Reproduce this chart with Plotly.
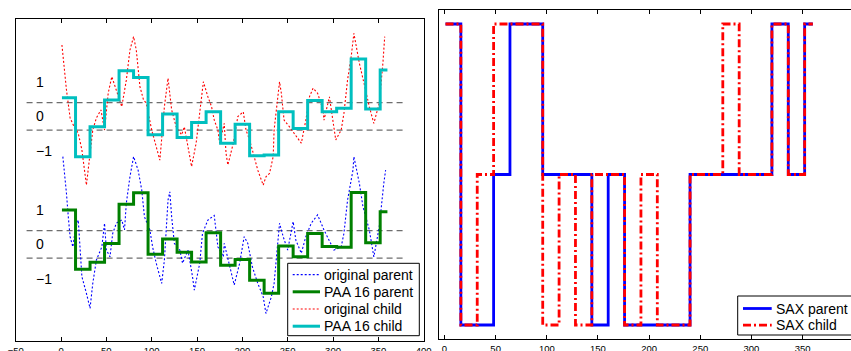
import plotly.graph_objects as go

# ---- data -------------------------------------------------------------
N_SAMPLES = 360
SEG_LEN = 16
CHILD_OFFSET = 4.0            # child series is lifted so both fit one axis
BREAKPOINTS = [-0.43, 0.43]   # SAX breakpoints for a 3-letter alphabet
BREAK_X = [-38, 377]

# original (z-normalised) series, sampled at the turning points
PARENT_X = [2, 4, 6, 8, 10, 13, 16, 19, 21, 23, 28, 32, 35, 39, 45, 48, 50, 54, 57, 61,
            67, 70, 72, 76, 80, 85, 89, 92, 98, 101, 105, 111, 114, 118, 120, 122, 125,
            131, 134, 140, 145, 147, 153, 156, 162, 169, 173, 179, 180, 186, 191, 197,
            202, 206, 211, 217, 223, 226, 232, 235, 238, 241, 245, 250, 256, 259, 265,
            270, 276, 283, 290, 296, 301, 309, 312, 316, 322, 323, 329, 333, 340, 345,
            351, 356, 358]
PARENT_V = [2.74, 2.22, 1.59, 0.86, 0.24, -0.08, 0.5, 0.76, -0.3, -1.01, -1.53, -2.0,
            -1.22, -0.49, -0.08, 0.66, -0.18, -0.39, 0.34, 0.66, 0.76, 0.45, 1.28, 2.11,
            2.74, 2.32, 1.7, 0.86, 0.45, -0.08, -0.59, -1.22, -0.49, 1.38, 1.64, 0.86,
            0.03, -0.18, -0.59, -0.18, -1.01, -1.43, -0.59, 0.34, 0.76, 0.9, -0.08, -0.39,
            0.03, -0.7, -1.27, -0.59, 0.24, 0.03, -0.7, -1.22, -1.64, -2.16, -1.64, -1.22,
            -0.18, 0.66, 0.24, -0.18, 0.71, 0.13, -0.28, 0.24, 0.66, 0.92, 0.45, 0.13,
            -0.18, -0.08, 0.34, 1.38, 2.32, 2.74, 1.91, 1.18, 0.45, -0.39, 0.55, 1.91, 2.32]

CHILD_X = [1, 6, 10, 14, 19, 23, 28, 30, 35, 39, 44, 48, 52, 56, 63, 67, 72, 76, 80, 83,
           87, 91, 94, 100, 105, 109, 114, 118, 122, 127, 133, 136, 142, 144, 149, 153,
           157, 162, 166, 169, 173, 175, 180, 182, 184, 190, 195, 201, 204, 208, 213, 217,
           223, 226, 230, 234, 235, 239, 241, 243, 246, 252, 257, 265, 270, 274, 278, 283,
           289, 290, 296, 300, 303, 309, 312, 316, 320, 323, 329, 335, 340, 345, 351, 355,
           357]
CHILD_V = [2.23, 0.82, -0.05, -0.3, -0.53, -1.05, -2.15, -1.68, -0.43, -0.05, 0.2, -0.43,
           0.72, 1.24, 0.61, 0.3, 1.13, 2.07, 2.49, 2.07, 0.93, 0.51, 0.41, -0.43, -0.95,
           -1.37, 0.3, 1.19, 0.2, -0.33, -0.58, -0.33, -1.26, -1.57, -0.84, 0.09, 1.08,
           0.61, 0.3, -0.12, -0.43, -0.84, -0.22, -1.16, -1.52, -0.84, -0.01, 0.14, -0.43,
           -0.74, -1.26, -1.68, -2.15, -1.89, -1.78, -1.26, -0.43, 0.61, 1.08, 0.72, -0.12,
           -0.33, -0.53, -0.84, -0.12, 0.61, 0.88, 0.72, 0.2, -0.12, 0.61, -0.12, -0.74,
           -0.43, 0.09, 1.13, 1.86, 2.59, 1.66, 0.93, 0.3, -0.22, 0.41, 1.66, 2.49]

# PAA with 16-sample frames (23 frames, the last one partial)
PAA_PARENT = [1.07, -0.78, -0.56, 0.03, 1.25, 1.61, -0.31, 0.17, -0.25, -0.55, 0.36, -0.65,
              -0.47, -1.12, -1.53, -0.05, -0.39, 0.34, -0.07, -0.09, 1.62, 0.05, 1.02]
PAA_CHILD = [0.58, -1.26, -0.33, 0.51, 1.42, 1.21, -0.58, 0.07, -0.66, -0.19, 0.14, -0.84,
             -0.25, -1.23, -1.21, 0.14, -0.38, 0.49, 0.14, 0.25, 1.79, 0.23, 1.45]

# SAX words (alphabet a < b < c)
SAX_PARENT = "caabccbbbabaaaabbbbbcbc"
SAX_CHILD = "cabcccababbabaabbcbbcbc"
SAX_LEVEL = {"a": 1, "b": 2, "c": 3}

LEVEL_LABELS = ["1", "0", "\u22121"]
LEVEL_LABEL_Y = [1.08, 0.0, -1.08]

LEFT_LEGEND = ["original parent", "PAA 16 parent", "original child", "PAA 16 child"]
RIGHT_LEGEND = ["SAX parent", "SAX child"]

# ---- styles -----------------------------------------------------------
FONT = "Liberation Sans, Arial, Helvetica, sans-serif"
BLUE, RED, GREEN, CYAN = "rgb(0,0,255)", "rgb(255,0,0)", "rgb(0,128,0)", "rgb(0,191,191)"
DOTTED = "2px,2px"
DASHDOT = "8px,3px,2px,3px"
STYLE = {
    "original parent": dict(color=BLUE, width=1.1, dash=DOTTED),
    "PAA 16 parent": dict(color=GREEN, width=3, dash="solid"),
    "original child": dict(color=RED, width=1.1, dash=DOTTED),
    "PAA 16 child": dict(color=CYAN, width=3, dash="solid"),
    "SAX parent": dict(color=BLUE, width=2.8, dash="solid"),
    "SAX child": dict(color=RED, width=2.8, dash=DASHDOT),
}

W, H = 851, 351

# ---- helpers ----------------------------------------------------------
n_seg = len(PAA_PARENT)
edges = [1] + [SEG_LEN * k for k in range(1, n_seg)] + [N_SAMPLES]


def stairs(vals, offset=0.0):
    ys = [v + offset for v in vals]
    return edges, ys + [ys[-1]]


def px_x(p):
    return p / W


def px_y(p):
    return 1 - p / H


fig = go.Figure()

# breakpoint guides for both series
for off in (0.0, CHILD_OFFSET):
    for b in BREAKPOINTS:
        fig.add_trace(go.Scatter(x=BREAK_X, y=[b + off, b + off], mode="lines",
                                 line=dict(color="rgb(110,110,110)", width=1.3, dash="6px,4px"),
                                 hoverinfo="skip", xaxis="x", yaxis="y"))

fig.add_trace(go.Scatter(x=PARENT_X, y=PARENT_V, mode="lines", name="original parent",
                         line=STYLE["original parent"], xaxis="x", yaxis="y"))
sx, sy = stairs(PAA_PARENT)
fig.add_trace(go.Scatter(x=sx, y=sy, mode="lines", name="PAA 16 parent", line_shape="hv",
                         line=STYLE["PAA 16 parent"], xaxis="x", yaxis="y"))
fig.add_trace(go.Scatter(x=CHILD_X, y=[v + CHILD_OFFSET for v in CHILD_V], mode="lines",
                         name="original child", line=STYLE["original child"],
                         xaxis="x", yaxis="y"))
sx, sy = stairs(PAA_CHILD, CHILD_OFFSET)
fig.add_trace(go.Scatter(x=sx, y=sy, mode="lines", name="PAA 16 child", line_shape="hv",
                         line=STYLE["PAA 16 child"], xaxis="x", yaxis="y"))

# SAX symbols
sx, sy = stairs([SAX_LEVEL[c] for c in SAX_PARENT])
fig.add_trace(go.Scatter(x=sx, y=sy, mode="lines", name="SAX parent", line_shape="hv",
                         line=STYLE["SAX parent"], xaxis="x2", yaxis="y2"))
sx, sy = stairs([SAX_LEVEL[c] for c in SAX_CHILD])
fig.add_trace(go.Scatter(x=sx, y=sy, mode="lines", name="SAX child", line_shape="hv",
                         line=STYLE["SAX child"], xaxis="x2", yaxis="y2"))

annotations = []
for off in (CHILD_OFFSET, 0.0):
    for txt, yv in zip(LEVEL_LABELS, LEVEL_LABEL_Y):
        annotations.append(dict(x=-30, y=yv + off, xref="x", yref="y", text=txt,
                                showarrow=False, xanchor="left", yanchor="middle",
                                font=dict(size=14, color="black", family=FONT)))

# boxed legends (line sample + label per entry)
shapes = []


def boxed_legend(names, box, first_y, step, line_x0, line_x1, text_x):
    x0, y0, x1, y1 = box
    shapes.append(dict(type="rect", xref="paper", yref="paper", layer="above",
                       x0=px_x(x0), x1=px_x(x1), y0=px_y(y1), y1=px_y(y0),
                       fillcolor="white", line=dict(color="black", width=1)))
    for i, name in enumerate(names):
        yy = first_y + i * step
        st = STYLE[name]
        shapes.append(dict(type="line", xref="paper", yref="paper", layer="above",
                           x0=px_x(line_x0), x1=px_x(line_x1), y0=px_y(yy), y1=px_y(yy),
                           line=dict(color=st["color"], width=st["width"], dash=st["dash"])))
        annotations.append(dict(x=px_x(text_x), y=px_y(yy), xref="paper", yref="paper",
                                text=name, showarrow=False, xanchor="left", yanchor="middle",
                                font=dict(size=14, color="black", family=FONT)))


boxed_legend(LEFT_LEGEND, (287.7, 263.3, 419.3, 335.7), 274.6, 17.2, 292.7, 320, 322)
boxed_legend(RIGHT_LEGEND, (737.7, 296, 870, 335), 308.5, 16.7, 743, 771.7, 773.5)

axis_common = dict(showgrid=False, zeroline=False, showline=True, linecolor="black",
                   linewidth=1.2, automargin=False)

fig.update_layout(
    width=W, height=H, autosize=False, showlegend=False,
    margin=dict(l=0, r=0, t=0, b=0, pad=0, autoexpand=False),
    paper_bgcolor="white", plot_bgcolor="white",
    font=dict(family=FONT, color="black"),
    annotations=annotations, shapes=shapes,
    xaxis=dict(domain=[15.7 / W, 423.7 / W], range=[-50, 400],
               tickvals=list(range(-50, 401, 50)), ticks="inside", ticklen=4,
               tickcolor="black", mirror="ticks", tickfont=dict(size=9.5),
               anchor="y", **axis_common),
    yaxis=dict(domain=[1 - 341 / H, 1 - 19 / H], range=[-3.02, 7.04],
               showticklabels=False, ticks="", mirror=True, anchor="x", **axis_common),
    xaxis2=dict(domain=[438.7 / W, 1.0], range=[-5.66, 397.3],
                tickvals=list(range(0, 401, 50)), ticks="inside", ticklen=4,
                tickcolor="black", mirror="ticks", tickfont=dict(size=9.5),
                anchor="y2", **axis_common),
    yaxis2=dict(domain=[1 - 339.3 / H, 1 - 10 / H], range=[0.905, 3.093],
                showticklabels=False, ticks="", mirror=False, anchor="x2", **axis_common),
)

fig.write_html("out.html")
